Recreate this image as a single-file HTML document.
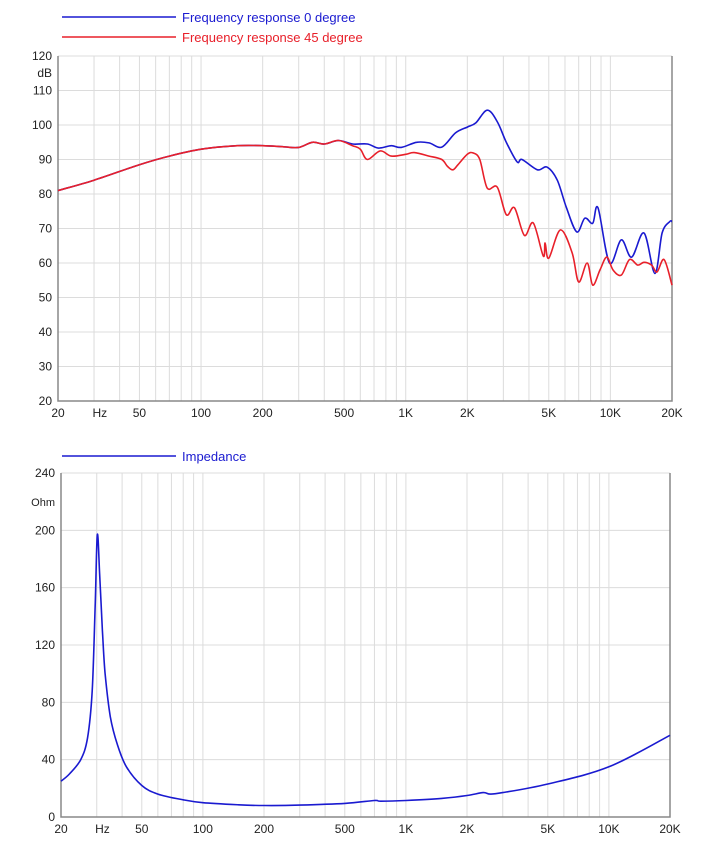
<!DOCTYPE html>
<html><head><meta charset="utf-8"><style>
html,body{margin:0;padding:0;background:#fff;}
svg{display:block;font-family:"Liberation Sans",sans-serif;}
</style></head><body>
<svg id="chart" width="720" height="858" viewBox="0 0 720 858">
<g id="top"></g>
<g id="bot"></g>
</svg>
<script>
const frFreq0=[20,30,50,70,100,150,200,250,300,350,400,470,550,650,735,850,950,1130,1300,1500,1750,2000,2200,2500,2800,3100,3500,3700,4400,4900,5500,6100,6850,7500,8200,8700,9900,11300,12700,14600,16500,17900,19500,20000];
const fr0=[81,84,88.5,91,93,94,94,93.7,93.5,95,94.5,95.5,94.5,94.5,93.3,94,93.5,95,94.8,93.6,97.7,99.4,100.6,104.3,101,95,89.3,90,87,87.8,84,76,69,73,71.5,76,60,66.7,61.7,68.7,57,68.7,72,72];
const frFreq45=[20,30,50,70,100,150,200,250,300,350,400,470,550,600,650,750,850,1000,1100,1300,1500,1600,1700,1800,2000,2130,2300,2500,2800,3100,3400,3800,4200,4700,4800,5000,5700,6500,7000,7700,8200,8900,9600,10300,11300,12400,13600,14600,15900,16900,18300,20000];
const fr45=[81,84,88.5,91,93,94,94,93.7,93.5,95,94.5,95.5,94,93,90,92.5,91,91.5,92,91,90,88,87,88.5,91.5,91.9,90,81.7,82,74,76,68,71.6,62,65.8,61.4,69.6,63,54.5,60,53.6,58,61.7,58,56.5,61,59.4,60.2,59.4,57.4,61,53.6];
const zFreq=[20,22,25,27,28.5,29.5,30.2,31,32,33,35,38,42,50,60,80,100,150,200,300,500,700,750,1000,1500,2000,2400,2600,3000,5000,10000,20000];
const zVal=[25,30,40,55,88,150,197,170,130,100,70,50,35,22,16,12,10,8.5,8,8.3,9.5,11.5,11,11.5,13,15,17,16,17,23,35,57];
const dbTicks=[20,30,40,50,60,70,80,90,100,110,120];
const ohmTicks=[0,40,80,120,160,200,240];
const xTickLabels=[[20,"20"],[50,"50"],[100,"100"],[200,"200"],[500,"500"],[1000,"1K"],[2000,"2K"],[5000,"5K"],[10000,"10K"],[20000,"20K"]];

const NS="http://www.w3.org/2000/svg";
function mk(parent,tag,attrs,text){const e=document.createElementNS(NS,tag);for(const k in attrs)e.setAttribute(k,attrs[k]);if(text!==undefined)e.textContent=text;parent.appendChild(e);return e;}
function gridFreqs(){const f=[];for(let d=10;d<=10000;d*=10)for(let m=1;m<10;m++){const v=d*m;if(v>=20&&v<=20000)f.push(v);}f.push(20000);return f;}
function smoothPath(pts){
  let d='M'+pts[0][0].toFixed(1)+','+pts[0][1].toFixed(1);
  for(let i=0;i<pts.length-1;i++){
    const p0=pts[i-1]||pts[i],p1=pts[i],p2=pts[i+1],p3=pts[i+2]||p2;
    const c1x=p1[0]+(p2[0]-p0[0])/6,c1y=p1[1]+(p2[1]-p0[1])/6;
    const c2x=p2[0]-(p3[0]-p1[0])/6,c2y=p2[1]-(p3[1]-p1[1])/6;
    d+='C'+c1x.toFixed(1)+','+c1y.toFixed(1)+' '+c2x.toFixed(1)+','+c2y.toFixed(1)+' '+p2[0].toFixed(1)+','+p2[1].toFixed(1);
  }
  return d;
}
function drawChart(g,o){
  const xS=f=>o.x0+(o.x1-o.x0)*Math.log10(f/20)/3;
  const yS=v=>o.y1-(o.y1-o.y0)*(v-o.vmin)/(o.vmax-o.vmin);
  gridFreqs().forEach(f=>{
    const l=mk(g,'line',{x1:xS(f),x2:xS(f),y1:o.y0,y2:o.y1,stroke:'#dcdcdc','stroke-width':1});
    
    
  });
  o.ticks.forEach(v=>{
    const l=mk(g,'line',{x1:o.x0,x2:o.x1,y1:yS(v),y2:yS(v),stroke:'#dcdcdc','stroke-width':1});
    
    
    const t=mk(g,'text',{x:o.x0-6,y:yS(v)+4,'text-anchor':'end','font-size':12,fill:'#222'},String(v));
    
    
  });
  const u=mk(g,'text',{x:o.x0-6,y:o.unitY,'text-anchor':'end','font-size':o.unitSize,fill:'#222'},o.unit);
  
  
  const ax=mk(g,'path',{d:`M${o.x0},${o.y0}V${o.y1}H${o.x1}V${o.y0}`,fill:'none',stroke:'#888','stroke-width':1.5});
  
  
  xTickLabels.forEach(([f,s])=>{
    const t=mk(g,'text',{x:xS(f),y:o.y1+16,'text-anchor':'middle','font-size':12,fill:'#222'},s);
    
    
  });
  const hz=mk(g,'text',{x:xS(32),y:o.y1+16,'text-anchor':'middle','font-size':12,fill:'#222'},'Hz');
  
  
  o.series.forEach(s=>{
    const pts=s.f.map((f,i)=>[xS(f),yS(s.v[i])]);
    const p=mk(g,'path',{d:smoothPath(pts),fill:'none',stroke:s.color,'stroke-width':1.6,'stroke-linejoin':'round'});
    
    
  });
  o.legend.forEach(l=>{
    const ln=mk(g,'line',{x1:62,x2:176,y1:l.y,y2:l.y,stroke:l.color,'stroke-width':1.5});
    
    
    const t=mk(g,'text',{x:182,y:l.y+5,'font-size':13,fill:l.color},l.text);
    
    
  });
}
drawChart(document.getElementById('top'),{x0:58,x1:672,y0:56,y1:401,vmin:20,vmax:120,ticks:dbTicks,unit:'dB',unitY:77,unitSize:12,
  series:[{f:frFreq0,v:fr0,color:'#1a1ad0',name:'series-0-degree'},{f:frFreq45,v:fr45,color:'#e8202a',name:'series-45-degree'}],
  legend:[{y:17,color:'#1a1ad0',text:'Frequency response 0 degree'},{y:37,color:'#e8202a',text:'Frequency response 45 degree'}]});
drawChart(document.getElementById('bot'),{x0:61,x1:670,y0:473,y1:817,vmin:0,vmax:240,ticks:ohmTicks,unit:'Ohm',unitY:506,unitSize:11,
  series:[{f:zFreq,v:zVal,color:'#1a1ad0',name:'impedance-curve'}],
  legend:[{y:456,color:'#1a1ad0',text:'Impedance'}]});
</script>
</body></html>
